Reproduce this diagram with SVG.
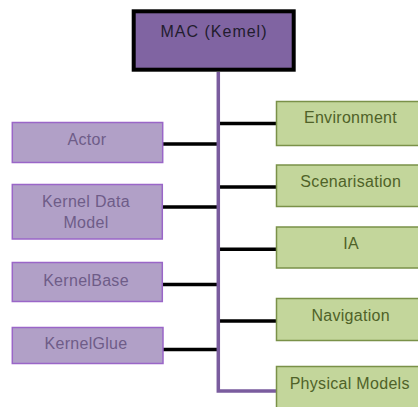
<svg xmlns="http://www.w3.org/2000/svg" width="418" height="407" viewBox="0 0 418 407">
<style>
text{font-family:"Liberation Sans",Arial,sans-serif;font-size:16px;text-anchor:middle;letter-spacing:0.3px}
.l rect{fill:#b1a0c7;stroke:#9a66c8;stroke-width:1.5}
.l text{fill:#6e5c88}
.r rect{fill:#c3d69b;stroke:#7a9148;stroke-width:1.5}
.r text{fill:#4f6228}
.c{stroke:#000;stroke-width:3.5;fill:none}
.p{stroke:#7a5c9e;stroke-width:3.5;fill:none}
</style>
<rect width="418" height="407" fill="#fff"/>
<g id="connectors">
<line class="c" x1="163" y1="144" x2="219" y2="144"/>
<line class="c" x1="162" y1="207" x2="219" y2="207"/>
<line class="c" x1="162" y1="284.5" x2="219" y2="284.5"/>
<line class="c" x1="163" y1="349.5" x2="219" y2="349.5"/>
<line class="c" x1="218" y1="123.5" x2="276" y2="123.5"/>
<line class="c" x1="218" y1="187" x2="276" y2="187"/>
<line class="c" x1="218" y1="249.3" x2="276" y2="249.3"/>
<line class="c" x1="218" y1="321" x2="276" y2="321"/>
<polyline class="p" points="218.3,72 218.3,391 276,391"/>
</g>
<g id="mac">
<rect x="133.7" y="11.3" width="160" height="58.4" fill="#8064a2" stroke="#000" stroke-width="4"/>
<text x="214" y="37" fill="#221c2e" style="letter-spacing:1px">MAC (Kemel)</text>
</g>
<g id="actor" class="l">
<rect x="12.3" y="122.5" width="150.4" height="40"/>
<text x="87" y="145">Actor</text>
</g>
<g id="kernel-data-model" class="l">
<rect x="12.3" y="184.5" width="150" height="54.5"/>
<text x="86" y="207">Kernel Data</text>
<text x="86" y="228">Model</text>
</g>
<g id="kernelbase" class="l">
<rect x="12.3" y="262.5" width="150" height="39"/>
<text x="86" y="286">KernelBase</text>
</g>
<g id="kernelglue" class="l">
<rect x="12.3" y="327.5" width="150.7" height="36"/>
<text x="86" y="349">KernelGlue</text>
</g>
<g id="environment" class="r">
<rect x="276.5" y="101.5" width="150" height="44"/>
<text x="350.5" y="123">Environment</text>
</g>
<g id="scenarisation" class="r">
<rect x="276.5" y="165" width="150" height="41.5"/>
<text x="350.8" y="187">Scenarisation</text>
</g>
<g id="ia" class="r">
<rect x="276.5" y="227" width="150" height="41"/>
<text x="351" y="249">IA</text>
</g>
<g id="navigation" class="r">
<rect x="276.5" y="298.5" width="150" height="42"/>
<text x="350.7" y="321">Navigation</text>
</g>
<g id="physical-models" class="r">
<rect x="276.5" y="366.5" width="150" height="50"/>
<text x="349.7" y="389">Physical Models</text>
</g>
</svg>
